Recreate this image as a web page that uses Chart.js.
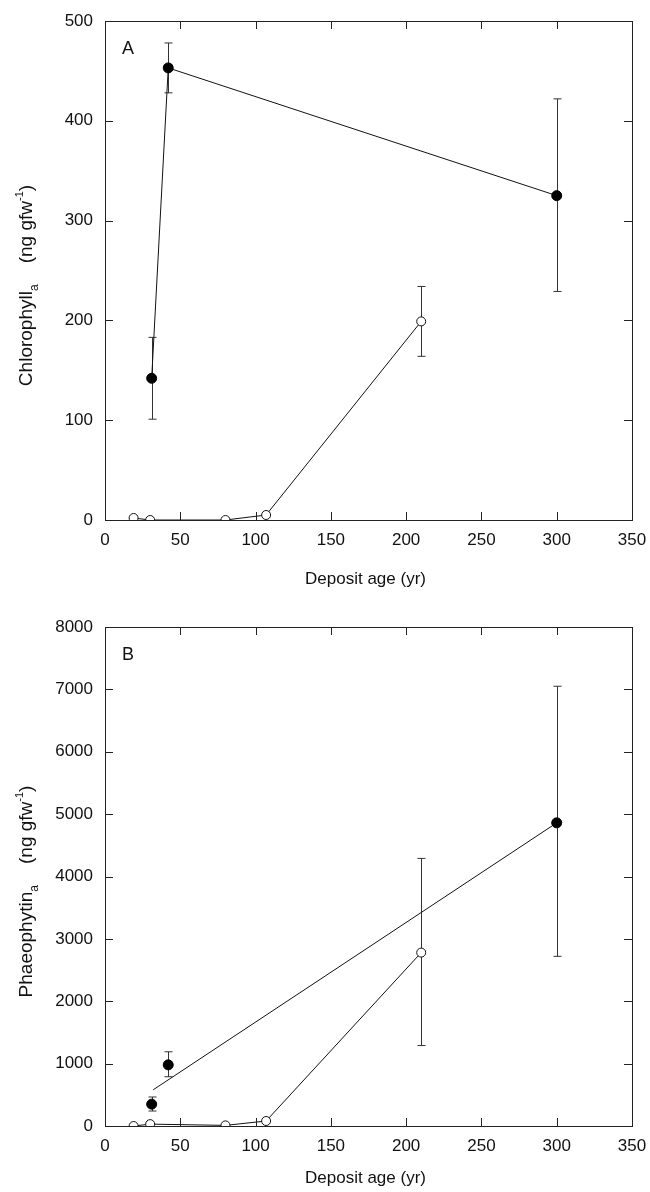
<!DOCTYPE html>
<html>
<head>
<meta charset="utf-8">
<script src="https://cdn.jsdelivr.net/npm/chart.js@4/dist/chart.umd.min.js"></script>
<style>
  html, body { margin: 0; padding: 0; background: #fff; }
  .panel { position: relative; width: 650px; height: 596px; }
</style>
</head>
<body>
<div class="panel"><canvas id="chartA"></canvas></div>
<div class="panel"><canvas id="chartB"></canvas></div>
<script>
// deposit ages (yr)
const ageFilled = [31, 42, 300];
const ageOpen = [19, 30, 80, 107, 210];
const ageFit = [32, 300];

// panel A : chlorophyll a (ng gfw-1)
const chlFilled = [142, 453, 325];
const chlFilledLow = [101, 428, 229];
const chlFilledHigh = [183, 478, 422];
const chlOpen = [2, 0, 0, 5, 199];
const chlOpenLow = [null, null, null, null, 164];
const chlOpenHigh = [null, null, null, null, 234];

// panel B : phaeophytin a (ng gfw-1)
const phaFilled = [350, 980, 4860];
const phaFilledLow = [240, 790, 2720];
const phaFilledHigh = [465, 1190, 7050];
const phaOpen = [0, 30, 10, 80, 2780];
const phaOpenLow = [null, null, null, null, 1290];
const phaOpenHigh = [null, null, null, null, 4290];
const phaFit = [580, 4860];

const xTicks = [0, 50, 100, 150, 200, 250, 300, 350];

const FONT = "'Liberation Sans', Arial, Helvetica, sans-serif";

function pts(xs, ys) {
  return xs.map((x, i) => ({ x: x, y: ys[i] }));
}

// error bars, drawn behind the markers
const errorBars = {
  id: 'errorBars',
  beforeDatasetsDraw(chart) {
    const ctx = chart.ctx;
    const ys = chart.scales.y, xs = chart.scales.x;
    ctx.save();
    ctx.strokeStyle = '#333';
    ctx.lineWidth = 1;
    chart.data.datasets.forEach((ds) => {
      if (!ds.errLow) return;
      ds.data.forEach((p, i) => {
        const lo = ds.errLow[i], hi = ds.errHigh[i];
        if (lo == null) return;
        const px = Math.round(xs.getPixelForValue(p.x)) + 0.5;
        const y1 = ys.getPixelForValue(lo), y2 = ys.getPixelForValue(hi);
        ctx.beginPath();
        ctx.moveTo(px, y1); ctx.lineTo(px, y2);
        ctx.moveTo(px - 4, y1); ctx.lineTo(px + 4, y1);
        ctx.moveTo(px - 4, y2); ctx.lineTo(px + 4, y2);
        ctx.stroke();
      });
    });
    ctx.restore();
  }
};

// frame, inward ticks on all four sides, panel letter and axis titles
const frame = {
  id: 'frame',
  afterDraw(chart, args, opts) {
    const ctx = chart.ctx;
    const a = chart.chartArea;
    const xs = chart.scales.x, ys = chart.scales.y;
    ctx.save();
    ctx.strokeStyle = '#222';
    ctx.lineWidth = 1;
    ctx.strokeRect(Math.round(a.left) + 0.5, Math.round(a.top) + 0.5,
      Math.round(a.right - a.left), Math.round(a.bottom - a.top));
    const L = 8;
    ctx.beginPath();
    xs.ticks.forEach((t) => {
      const px = Math.round(xs.getPixelForValue(t.value)) + 0.5;
      ctx.moveTo(px, a.bottom); ctx.lineTo(px, a.bottom - L);
      ctx.moveTo(px, a.top); ctx.lineTo(px, a.top + L);
    });
    ys.ticks.forEach((t) => {
      const py = Math.round(ys.getPixelForValue(t.value)) + 0.5;
      ctx.moveTo(a.left, py); ctx.lineTo(a.left + L, py);
      ctx.moveTo(a.right, py); ctx.lineTo(a.right - L, py);
    });
    ctx.stroke();

    ctx.fillStyle = '#111';
    ctx.font = '18px ' + FONT;
    ctx.textBaseline = 'alphabetic';
    ctx.fillText(opts.letter, a.left + 17, a.top + 33);

    // x title
    ctx.font = '17px ' + FONT;
    ctx.textAlign = 'center';
    ctx.fillText('Deposit age (yr)', (a.left + a.right) / 2 - 3, a.bottom + opts.xTitleGap);

    // y title with subscript a and superscript -1
    const parts = [
      { t: opts.yName, f: 19, dy: 0 },
      { t: 'a', f: 12, dy: 6 },
      { t: '    (ng gfw', f: 19, dy: 0 },
      { t: '-1', f: 11, dy: -9 },
      { t: ')', f: 19, dy: 0 }
    ];
    let total = 0;
    parts.forEach((p) => { ctx.font = p.f + 'px ' + FONT; p.w = ctx.measureText(p.t).width; total += p.w; });
    ctx.translate(32, (a.top + a.bottom) / 2 + 15);
    ctx.rotate(-Math.PI / 2);
    ctx.textAlign = 'left';
    let cx = -total / 2;
    parts.forEach((p) => {
      ctx.font = p.f + 'px ' + FONT;
      ctx.fillText(p.t, cx, p.dy);
      cx += p.w;
    });
    ctx.restore();
  }
};

function filledSet(xs, ys, lo, hi, line) {
  return {
    data: pts(xs, ys), errLow: lo, errHigh: hi,
    showLine: line, borderColor: '#111', borderWidth: 1,
    pointRadius: 5, pointBackgroundColor: '#000', pointBorderColor: '#000',
    pointBorderWidth: 1, order: 1
  };
}

function openSet(xs, ys, lo, hi) {
  return {
    data: pts(xs, ys), errLow: lo, errHigh: hi,
    showLine: true, borderColor: '#111', borderWidth: 1,
    pointRadius: 4.5, pointBackgroundColor: '#fff', pointBorderColor: '#111',
    pointBorderWidth: 1, order: 0
  };
}

function makeChart(id, datasets, yMax, yStep, letter, yName, topPad, xHeight, xTitleGap) {
  return new Chart(document.getElementById(id), {
    type: 'scatter',
    data: { datasets: datasets },
    plugins: [errorBars, frame],
    options: {
      responsive: true,
      maintainAspectRatio: false,
      animation: false,
      layout: { padding: { left: 0, right: 18, top: topPad, bottom: 0 } },
      plugins: {
        legend: { display: false },
        tooltip: { enabled: false },
        frame: { letter: letter, yName: yName, xTitleGap: xTitleGap }
      },
      scales: {
        x: {
          type: 'linear', min: 0, max: 350,
          afterBuildTicks: (s) => { s.ticks = xTicks.map((v) => ({ value: v })); },
          grid: { display: false, drawTicks: false },
          border: { display: false },
          ticks: { color: '#111', font: { family: FONT, size: 17 }, padding: 10,
                   callback: (v) => String(v) },
          afterFit: (s) => { s.height = xHeight; s.paddingRight = 0; s.paddingLeft = 0; }
        },
        y: {
          type: 'linear', min: 0, max: yMax,
          grid: { display: false, drawTicks: false },
          border: { display: false },
          ticks: { stepSize: yStep, color: '#111', font: { family: FONT, size: 17 }, padding: 12,
                   callback: (v) => String(v) },
          afterFit: (s) => { s.width = 105; s.paddingTop = 0; s.paddingBottom = 0; }
        }
      }
    }
  });
}

makeChart('chartA', [
  filledSet(ageFilled, chlFilled, chlFilledLow, chlFilledHigh, true),
  openSet(ageOpen, chlOpen, chlOpenLow, chlOpenHigh)
], 500, 100, 'A', 'Chlorophyll', 21, 76, 64);

makeChart('chartB', [
  filledSet(ageFilled, phaFilled, phaFilledLow, phaFilledHigh, false),
  openSet(ageOpen, phaOpen, phaOpenLow, phaOpenHigh),
  {
    data: pts(ageFit, phaFit), showLine: true, borderColor: '#111', borderWidth: 1,
    pointRadius: 0, order: 2
  }
], 8000, 1000, 'B', 'Phaeophytin', 31, 66, 57);
</script>
</body>
</html>
